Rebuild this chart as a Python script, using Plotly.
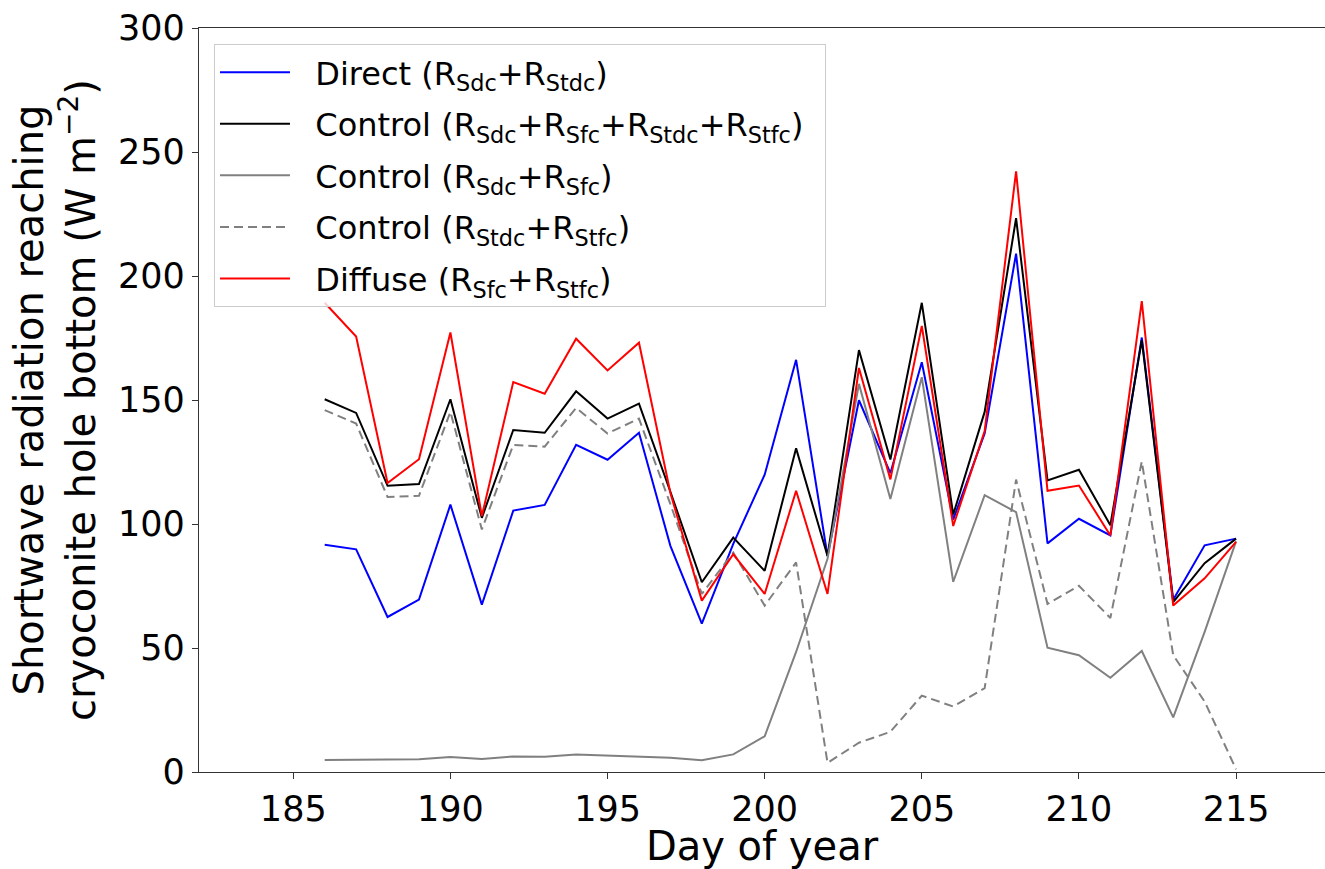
import plotly.graph_objects as go

days = list(range(186, 216))

direct = [91.6, 89.8, 62.5, 69.5, 107.8, 67.5, 105.4, 107.7, 131.9, 125.9,
          136.8, 91.2, 59.8, 92.0, 119.9, 166.2, 87.1, 149.9, 120.5, 165.2,
          101.8, 136.5, 209.0, 92.2, 102.1, 95.4, 175.2, 69.5, 91.4, 94.1]

control_all = [150.3, 144.8, 115.4, 116.1, 150.3, 102.5, 137.9, 136.8, 153.5, 142.5,
               148.5, 113.0, 76.5, 94.5, 81.1, 130.5, 87.1, 170.1, 126.0, 189.2,
               103.8, 145.2, 223.3, 117.6, 121.9, 99.5, 174.1, 68.5, 84.2, 94.1]

control_sdc_sfc = [4.8, 4.9, 5.0, 5.1, 6.0, 5.2, 6.3, 6.1, 7.1, 6.7,
                   6.3, 5.7, 4.7, 7.1, 14.4, 48.4, 86.0, 156.5, 110.1, 159.2,
                   76.7, 111.6, 104.8, 50.1, 47.1, 38.0, 48.8, 22.0, 56.5, 93.0]

control_stdc_stfc = [145.9, 140.5, 110.9, 111.4, 145.2, 97.8, 131.9, 131.2, 146.8, 136.5,
                     142.5, 108.0, 71.8, 88.5, 67.1, 84.5, 3.7, 11.8, 16.2, 30.8,
                     26.4, 33.8, 117.9, 67.8, 75.1, 62.1, 125.2, 47.1, 28.4, 1.1]

diffuse = [189.2, 175.6, 116.5, 126.1, 177.2, 103.2, 157.2, 152.5, 174.7, 161.9,
           173.1, 112.5, 69.1, 87.8, 71.8, 113.4, 71.8, 162.9, 118.0, 179.9,
           99.2, 137.5, 242.2, 113.4, 115.5, 95.4, 189.9, 67.1, 78.1, 92.8]

x_ticks = [185, 190, 195, 200, 205, 210, 215]
y_ticks = [0, 50, 100, 150, 200, 250, 300]

PAD = "\u00a0\u00a0"
series = [
    ("Direct (R<sub>Sdc</sub>+R<sub>Stdc</sub>)", direct, "#0000ff", "solid"),
    ("Control (R<sub>Sdc</sub>+R<sub>Sfc</sub>+R<sub>Stdc</sub>+R<sub>Stfc</sub>)\u00a0\u2009", control_all, "#000000", "solid"),
    ("Control (R<sub>Sdc</sub>+R<sub>Sfc</sub>)", control_sdc_sfc, "#808080", "solid"),
    ("Control (R<sub>Stdc</sub>+R<sub>Stfc</sub>)", control_stdc_stfc, "#808080", "9px,5px"),
    ("Diffuse (R<sub>Sfc</sub>+R<sub>Stfc</sub>)", diffuse, "#ff0000", "solid"),
]

FONT = "DejaVu Sans, Verdana, sans-serif"

fig = go.Figure()
for i, (name, vals, color, dash) in enumerate(series):
    fig.add_trace(go.Scatter(
        x=days, y=vals, mode="lines", name=PAD + name, legendgroup=f"g{i}",
        line=dict(color=color, width=2, dash=dash),
    ))

axis_common = dict(
    showgrid=False, zeroline=False, showline=True, linecolor="#333333", linewidth=1.3,
    ticks="outside", ticklen=6, tickwidth=1.3, tickcolor="#333333",
    tickfont=dict(family=FONT, size=35, color="black"),
)

fig.update_layout(
    width=1325, height=869, autosize=False,
    margin=dict(l=199, r=0, t=28, b=91),
    paper_bgcolor="white", plot_bgcolor="white",
    font=dict(family=FONT, color="black"),
    showlegend=True,
    legend=dict(
        x=0.0133, y=0.9787, xanchor="left", yanchor="top",
        bgcolor="rgba(255,255,255,0.8)", bordercolor="#cccccc", borderwidth=1,
        font=dict(family=FONT, size=32, color="black"),
        tracegroupgap=7, itemwidth=70,
    ),
    xaxis=dict(
        range=[182, 217.83], tickvals=x_ticks, mirror=True,
        title=dict(text="Day of year", font=dict(family=FONT, size=40, color="black"), standoff=12),
        **axis_common,
    ),
    yaxis=dict(
        range=[0, 300], tickvals=y_ticks, mirror=False,
        title=dict(text="Shortwave radiation reaching<br>cryoconite hole bottom (W m<sup>\u22122</sup>)",
                   font=dict(family=FONT, size=40, color="black"), standoff=10),
        **axis_common,
    ),
)

fig.write_html("out.html")
